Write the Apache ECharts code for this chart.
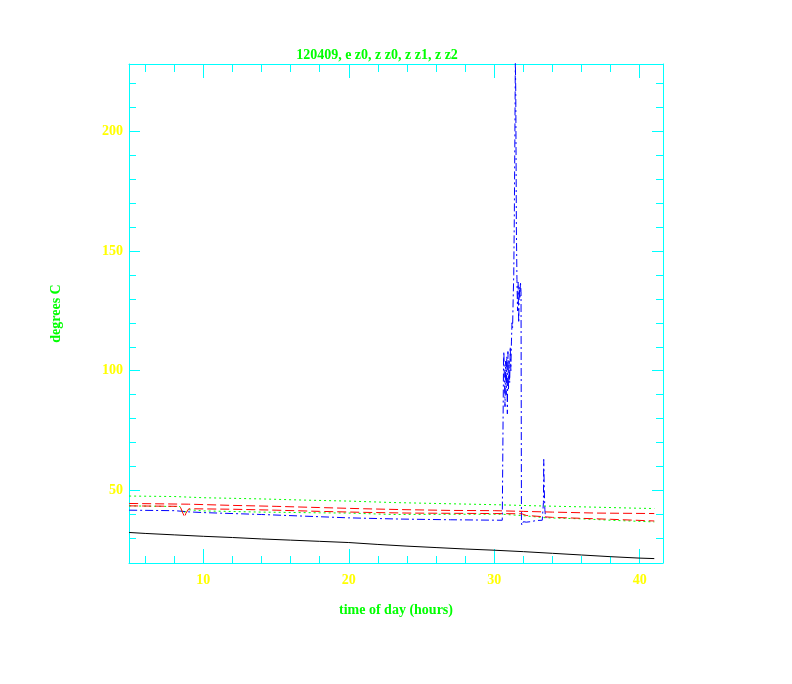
<!DOCTYPE html>
<html>
<head>
<meta charset="utf-8">
<script src="https://cdn.jsdelivr.net/npm/echarts@6/dist/echarts.min.js"></script>
<style>
html,body{margin:0;padding:0;background:#fff;}
#c{width:792px;height:684px;}
</style>
</head>
<body>
<div id="c"></div>
<script>
// ---- data ----
const titleText = '120409, e z0, z z0, z z1, z z2';
const xName = 'time of day (hours)';
const yName = 'degrees C';

const xMajor = [10, 20, 30, 40];
const xMinor = [6, 8, 12, 14, 16, 18, 22, 24, 26, 28, 32, 34, 36, 38];
const yMajor = [50, 100, 150, 200];
const yMinor = [30, 40, 60, 70, 80, 90, 110, 120, 130, 140, 160, 170, 180, 190, 210, 220];

// black solid
const tBlack = [4.9, 6, 8, 10, 12, 14, 16, 18, 20, 22, 24, 26, 28, 30, 32, 34, 36, 38, 40, 41];
const vBlack = [32.5, 32.1, 31.5, 30.9, 30.4, 29.8, 29.3, 28.8, 28.3, 27.5, 26.8, 26.2, 25.6, 25.1, 24.5, 23.8, 23.1, 22.4, 21.8, 21.6];

// green dotted (upper)
const tGreenU = [4.9, 8, 10, 14, 17, 20, 23, 26, 30, 33, 36, 40, 41];
const vGreenU = [47.7, 47.5, 47.0, 46.5, 46.0, 45.6, 45.0, 44.6, 44.1, 43.6, 43.2, 42.6, 42.5];

// red dashed (upper)
const tRedU = [4.9, 9, 12, 15, 18, 21, 24, 27, 30, 32, 34, 37, 41];
const vRedU = [44.6, 44.3, 43.8, 43.4, 42.9, 42.4, 42.0, 41.7, 41.6, 41.3, 41.0, 40.6, 40.4];

// red dashed (lower)
const tRedL = [4.9, 8.4, 8.6, 8.72, 8.8, 9.0, 12, 15, 18, 21, 24, 27, 30, 31.9, 32.2, 34, 36, 38, 41];
const vRedL = [43.6, 43.4, 40.5, 38.8, 40.5, 42.4, 42.2, 41.8, 41.3, 40.9, 40.6, 40.5, 40.4, 40.3, 39.6, 38.8, 38.4, 38.0, 37.3];

// green dotted (lower)
const tGreenL = [4.9, 8.4, 8.6, 8.7, 9.0, 10, 14, 18, 20, 23, 27, 30.6, 32, 33.6, 36, 38, 41];
const vGreenL = [43.6, 43.3, 40.5, 41.0, 42.0, 41.5, 41.0, 40.7, 40.6, 40.0, 40.1, 40.1, 39.5, 38.6, 38.2, 37.6, 36.9];

// blue dash-dot (with spike)
const tBlue = [4.9, 8, 9, 10, 14, 17, 20, 23.5, 27, 30.55, 30.62, 30.64, 30.66, 30.70, 30.74, 30.78, 30.82, 30.86, 30.90, 30.94, 30.98, 31.02, 31.06, 31.10, 31.14, 31.18, 31.22, 31.26, 31.30, 31.34, 31.38, 31.42, 31.45, 31.48, 31.52, 31.56, 31.60, 31.64, 31.68, 31.72, 31.76, 31.80, 31.84, 31.87, 31.90, 32.0, 32.2, 32.5, 32.9, 33.3, 33.38, 33.40, 33.44, 33.48, 33.52, 33.6];
const vBlue = [41.8, 41.6, 41.1, 40.8, 40.0, 39.3, 38.6, 38.1, 37.8, 37.6, 37.8, 105, 108, 96, 85, 104, 90, 106, 82, 108, 92, 104, 95, 110, 100, 112, 120, 118, 130, 140, 165, 200, 230, 215, 160, 138, 125, 137, 120, 135, 130, 137, 133, 36.5, 35.5, 37.0, 36.8, 37.0, 37.5, 37.6, 45, 63, 50, 42, 39.0, 38.5];

// ---- build ----
const zip = (t, v) => t.map((x, i) => [x, v[i]]);
const CYAN = '#00ffff', YELLOW = '#ffff00', GREEN = '#00ff00';
const FONT = "'Liberation Serif', 'DejaVu Serif', serif";
const XMIN = 4.89, XMAX = 41.6, YMIN = 19.76, YMAX = 228;

function xAx(pos, ticks, len, labels, line) {
  return {
    type: 'value', position: pos, min: XMIN, max: XMAX,
    axisLine: { show: line, onZero: false, lineStyle: { color: CYAN, width: 1 } },
    axisTick: { show: true, inside: true, length: len, customValues: ticks, lineStyle: { color: CYAN, width: 1 } },
    axisLabel: labels ? { show: true, customValues: ticks, color: YELLOW, fontFamily: FONT, fontWeight: 'bold', fontSize: 14, margin: 10 } : { show: false },
    splitLine: { show: false }
  };
}
function yAx(pos, ticks, len, labels, line) {
  return {
    type: 'value', position: pos, min: YMIN, max: YMAX,
    axisLine: { show: line, onZero: false, lineStyle: { color: CYAN, width: 1 } },
    axisTick: { show: true, inside: true, length: len, customValues: ticks, lineStyle: { color: CYAN, width: 1 } },
    axisLabel: labels ? { show: true, customValues: ticks, color: YELLOW, fontFamily: FONT, fontWeight: 'bold', fontSize: 14, margin: 6 } : { show: false },
    splitLine: { show: false }
  };
}

const xAxes = [
  xAx('bottom', xMajor, 14, true, true),
  xAx('bottom', xMinor, 7, false, false),
  xAx('top', xMajor, 14, false, true),
  xAx('top', xMinor, 8, false, false)
];
xAxes[0].name = xName;
xAxes[0].nameLocation = 'middle';
xAxes[0].nameGap = 40;
xAxes[0].nameTextStyle = { color: GREEN, fontFamily: FONT, fontWeight: 'bold', fontSize: 14 };

const yAxes = [
  yAx('left', yMajor, 11, true, true),
  yAx('left', yMinor, 7, false, false),
  yAx('right', yMajor, 11, false, true),
  yAx('right', yMinor, 7, false, false)
];
yAxes[0].name = yName;
yAxes[0].nameLocation = 'middle';
yAxes[0].nameGap = 66;
yAxes[0].nameTextStyle = { color: GREEN, fontFamily: FONT, fontWeight: 'bold', fontSize: 14 };

function line(data, color, type) {
  return {
    type: 'line', data: data, xAxisIndex: 0, yAxisIndex: 0,
    showSymbol: false, symbol: 'none', clip: true,
    lineStyle: { color: color, width: 1, type: type }
  };
}

const chart = echarts.init(document.getElementById('c'), null, { renderer: 'canvas' });
chart.setOption({
  animation: false,
  backgroundColor: '#ffffff',
  title: {
    text: titleText, left: 372, top: 43, textAlign: 'center',
    textStyle: { color: GREEN, fontFamily: FONT, fontWeight: 'bold', fontSize: 14 }
  },
  grid: { left: 129, right: 129, top: 64, bottom: 121, containLabel: false },
  xAxis: xAxes,
  yAxis: yAxes,
  series: [
    line(zip(tBlack, vBlack), '#000000', 'solid'),
    line(zip(tBlue, vBlue), '#0000ff', [8, 3, 2, 3]),
    line(zip(tGreenL, vGreenL), GREEN, [2, 3]),
    line(zip(tRedL, vRedL), '#ff0000', [9, 4]),
    line(zip(tRedU, vRedU), '#ff0000', [9, 4]),
    line(zip(tGreenU, vGreenU), GREEN, [2, 3])
  ]
});
</script>
</body>
</html>
